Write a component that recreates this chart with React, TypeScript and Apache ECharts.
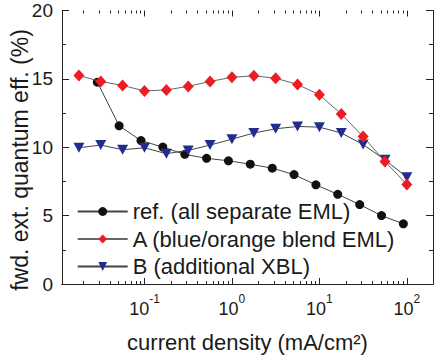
import React, { useEffect, useRef } from 'react';
import * as echarts from 'echarts';

// current density (mA/cm²) and efficiency (%)
const xRef = [0.0289, 0.0513, 0.0912, 0.162, 0.289, 0.513, 0.912, 1.62, 2.89, 5.13, 9.12, 16.2, 28.9, 51.3, 91.2];
const yRef = [14.76, 11.57, 10.49, 10.01, 9.48, 9.19, 9.01, 8.76, 8.47, 8.0, 7.25, 6.56, 5.81, 5.0, 4.4];
const xAB = [0.0178, 0.0316, 0.0562, 0.1, 0.178, 0.316, 0.562, 1, 1.78, 3.16, 5.62, 10, 17.8, 31.6, 56.2, 100];
const yA = [15.24, 14.81, 14.52, 14.12, 14.19, 14.45, 14.81, 15.12, 15.22, 15.05, 14.59, 13.83, 12.43, 10.78, 8.96, 7.28];
const yB = [9.96, 10.16, 9.82, 9.96, 9.53, 9.77, 10.16, 10.59, 11.04, 11.35, 11.52, 11.47, 11.04, 10.2, 9.08, 7.81];

const seriesNames = ['ref. (all separate EML)', 'A (blue/orange blend EML)', 'B (additional XBL)'];
const xTickExponents = [-1, 0, 1, 2];
const xDecades = [0.01, 0.1, 1, 10, 100];
const xMinorMultipliers = [2, 3, 4, 5, 6, 7, 8, 9];
const yTicks = [0, 5, 10, 15, 20];
const xTitle = 'current density (mA/cm²)';
const yTitle = 'fwd. ext. quantum eff. (%)';

const X_MIN = 0.0114;
const X_MAX = 199;
const FONT = '"Liberation Sans", Arial, sans-serif';
const INK = '#1a1a1a';

function pairs(xs: number[], ys: number[]) {
  return xs.map((x, i) => [x, ys[i]]);
}

// tick marks for the log axis: [value, isMajor]
function logTicks() {
  const out: number[][] = [];
  xDecades.forEach((d) => {
    if (d >= X_MIN && d <= X_MAX) out.push([d, 1]);
    xMinorMultipliers.forEach((m) => {
      const v = d * m;
      if (v > X_MIN && v < X_MAX) out.push([v, 0]);
    });
  });
  return out;
}

export default function App() {
  const ref = useRef<HTMLDivElement>(null);
  useEffect(() => {
    if (!ref.current) return;
    const chart = echarts.init(ref.current, null, { renderer: 'svg' });
    const xLabelFmt = (v: number) => {
      const l = Math.log10(v);
      const e = Math.round(l);
      if (Math.abs(l - e) > 1e-6 || !xTickExponents.includes(e)) return '';
      return `{b|10}{s|${e}}`;
    };
    const logAxisBase: any = {
      type: 'log',
      logBase: 10,
      min: X_MIN,
      max: X_MAX,
      axisLine: { show: true, lineStyle: { color: '#222', width: 1 } },
      axisTick: { show: false },
      minorTick: { show: false },
      splitLine: { show: false },
      minorSplitLine: { show: false },
    };
    const valAxisBase: any = {
      type: 'value',
      min: yTicks[0],
      max: yTicks[yTicks.length - 1],
      interval: 5,
      axisLine: { show: true, lineStyle: { color: '#222', width: 1 } },
      axisTick: { show: true, inside: true, length: 7, lineStyle: { color: '#222' } },
      minorTick: { show: true, splitNumber: 2, length: 4, lineStyle: { color: '#222' } },
      splitLine: { show: false },
    };
    const yMin = yTicks[0];
    const yMax = yTicks[yTicks.length - 1];
    chart.setOption({
      animation: false,
      backgroundColor: '#fff',
      textStyle: { fontFamily: FONT },
      grid: { left: 62, right: 3, top: 10.5, bottom: 69.5, containLabel: false },
      graphic: [
        {
          type: 'text',
          x: 20,
          y: 160,
          rotation: Math.PI / 2,
          silent: true,
          style: {
            text: yTitle,
            fontSize: 23,
            fontFamily: FONT,
            fill: INK,
            align: 'center',
            verticalAlign: 'middle',
          },
        },
      ],
      xAxis: [
        {
          ...logAxisBase,
          position: 'bottom',
          name: xTitle,
          nameLocation: 'middle',
          nameGap: 47,
          nameTextStyle: { fontSize: 22, color: INK, fontFamily: FONT },
          axisLabel: {
            show: true,
            margin: 12,
            showMinLabel: false,
            showMaxLabel: false,
            formatter: xLabelFmt,
            rich: {
              b: { fontSize: 18, color: INK, fontFamily: FONT, lineHeight: 20, padding: [6, 0, 0, 0] },
              s: { fontSize: 12, color: INK, fontFamily: FONT, lineHeight: 12, padding: [0, 0, 14, 0] },
            },
          },
        },
        {
          ...logAxisBase,
          position: 'top',
          axisLabel: { show: false },
        },
      ],
      yAxis: [
        {
          ...valAxisBase,
          position: 'left',
          axisLabel: { show: true, margin: 9, fontSize: 19, color: INK, fontFamily: FONT },
        },
        {
          ...valAxisBase,
          position: 'right',
          axisLabel: { show: false },
        },
      ],
      legend: {
        orient: 'vertical',
        left: 71.7,
        top: 195.5,
        itemWidth: 50,
        itemHeight: 11,
        itemGap: 5.5,
        data: seriesNames,
        textStyle: { fontSize: 22, color: INK, fontFamily: FONT, lineHeight: 22 },
      },
      series: [
        {
          name: 'xticks',
          type: 'custom',
          silent: true,
          clip: false,
          xAxisIndex: 0,
          yAxisIndex: 0,
          encode: { x: 0, y: 1 },
          data: logTicks(),
          renderItem: (params: any, api: any) => {
            const v = api.value(0);
            const major = api.value(1) === 1;
            const len = major ? 6 : 3;
            const pb = api.coord([v, yMin]);
            const pt = api.coord([v, yMax]);
            const x = Math.round(pb[0]) + 0.5;
            const st = { stroke: '#222', lineWidth: 1 };
            return {
              type: 'group',
              children: [
                { type: 'line', shape: { x1: x, y1: pb[1], x2: x, y2: pb[1] - len }, style: st },
                { type: 'line', shape: { x1: x, y1: pt[1], x2: x, y2: pt[1] + len }, style: st },
              ],
            };
          },
          z: 1,
        },
        {
          name: seriesNames[0],
          type: 'line',
          data: pairs(xRef, yRef),
          symbol: 'circle',
          symbolSize: 9,
          itemStyle: { color: '#111' },
          lineStyle: { color: '#444', width: 1 },
          z: 2,
        },
        {
          name: seriesNames[2],
          type: 'line',
          data: pairs(xAB, yB),
          symbol: 'triangle',
          symbolRotate: 180,
          symbolSize: [11, 10],
          itemStyle: { color: '#222c8e' },
          lineStyle: { color: '#444', width: 1 },
          z: 3,
        },
        {
          name: seriesNames[1],
          type: 'line',
          data: pairs(xAB, yA),
          symbol: 'diamond',
          symbolSize: [11, 12],
          itemStyle: { color: '#ec1c24' },
          lineStyle: { color: '#666', width: 1 },
          z: 4,
        },
      ],
    });
    return () => chart.dispose();
  }, []);
  return (
    <div
      ref={ref}
      style={{ position: 'fixed', left: 0, top: 0, width: 436, height: 358, background: '#fff' }}
    />
  );
}
